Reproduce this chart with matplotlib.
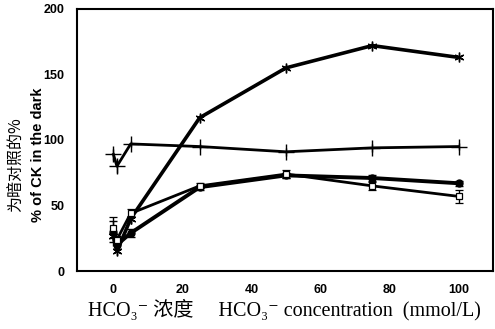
import numpy as np
import matplotlib
matplotlib.use("Agg")
from matplotlib import pyplot as plt

# data
conc = [0, 1, 5, 25, 50, 75, 100]
star = [27, 15, 40, 117, 155, 172, 163]
plus = [89, 80, 97, 95, 91, 94, 95]
circle = [30, 20, 29, 64, 73, 71, 67]
square = [33, 24, 44, 65, 74, 65, 57]
err_star = [8, 3, 4, 2, 2, 2, 2]
err_plus = [4, 5, 2, 2, 3, 3, 3]
err_circle = [8, 3, 3, 2, 2, 2, 2]
err_square = [8, 3, 3, 2, 3, 3, 5]

yticks = [0, 50, 100, 150, 200]
xticks = [0, 20, 40, 60, 80, 100]

fig = plt.figure(figsize=(4.95, 3.29), dpi=100)
ax = fig.add_axes([0.156, 0.176, 0.84, 0.797])

ax.errorbar(conc, star, yerr=err_star, color='k', lw=2.6, marker=(6, 2, 0),
            ms=7, mew=1.0, capsize=0, elinewidth=1.0)
ax.errorbar(conc, plus, yerr=err_plus, color='k', lw=2.0, marker='+',
            ms=11, mew=1.0, capsize=0, elinewidth=1.0)
ax.errorbar(conc, circle, yerr=err_circle, color='k', lw=2.8, marker='o',
            ms=5, capsize=3, elinewidth=1.0)
ax.errorbar(conc, square, yerr=err_square, color='k', lw=2.0, marker='s',
            ms=5, mfc='white', mew=0.9, capsize=3, elinewidth=1.0)

ax.set_xlim(-10.5, 110)
ax.set_ylim(0, 200)
ax.set_xticks(xticks)
ax.set_yticks(yticks)
ax.tick_params(length=0, pad=9, labelsize=9)
for lab in ax.get_xticklabels() + ax.get_yticklabels():
    lab.set_fontweight('bold')
    lab.set_family('Liberation Sans')
for s in ax.spines.values():
    s.set_linewidth(1.5)

fig.text(0.034, 0.50, '为暗对照的%', rotation=90, ha='center', va='center',
         fontsize=11.5, family=['Noto Sans CJK SC', 'DejaVu Sans'])
fig.text(0.077, 0.53, '% of CK in the dark', rotation=90, ha='center',
         va='center', fontsize=10.5, fontweight='bold', family='Liberation Sans')

fig.text(0.575, 0.058, 'HCO\u2083\u207b 浓度     HCO\u2083\u207b concentration  (mmol/L)',
         ha='center', va='center', fontsize=14.5,
         family=['Liberation Serif', 'Noto Sans CJK SC', 'DejaVu Serif'])

fig.savefig('out.png', dpi=100)
